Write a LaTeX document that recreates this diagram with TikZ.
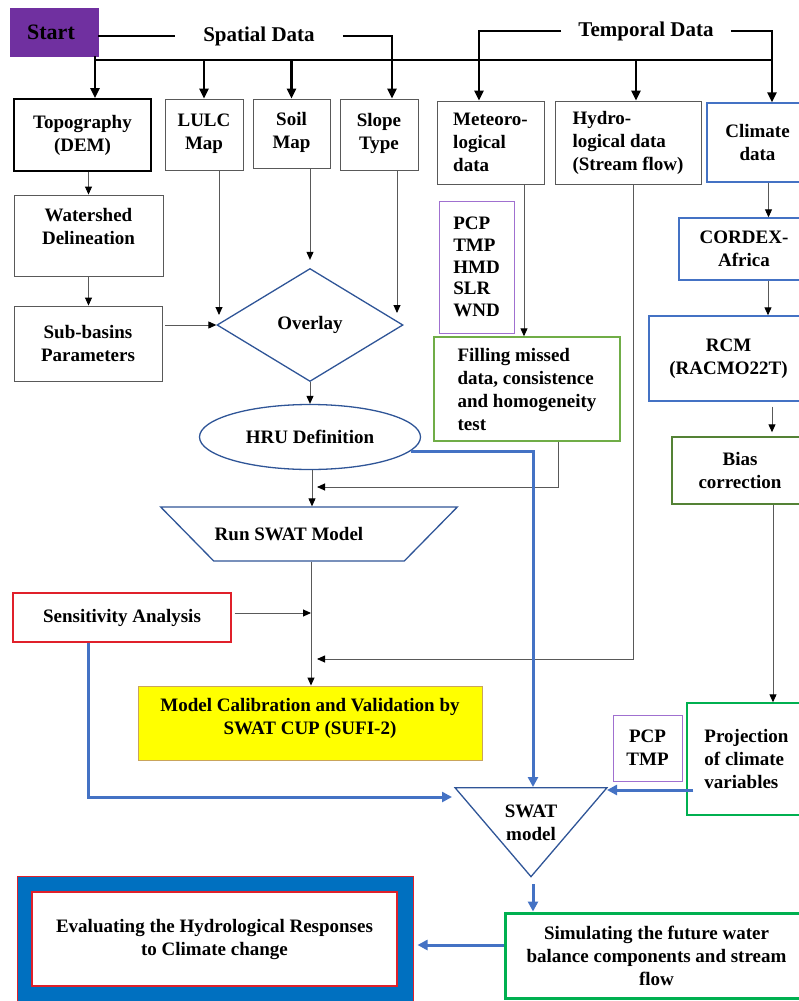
\documentclass[tikz,border=0pt]{standalone}
\usepackage{fontspec}
\setmainfont{Liberation Serif}
\usetikzlibrary{shapes.geometric, arrows.meta, positioning}
\usepackage{xcolor}
\definecolor{StartPurple}{HTML}{7030A0}
\definecolor{ListPurple}{HTML}{A070D0}
\definecolor{LineGray}{HTML}{595959}
\definecolor{ShapeBlue}{HTML}{2F5597}
\definecolor{BoxBlue}{HTML}{4472C4}
\definecolor{FrameBlue}{HTML}{0070C0}
\definecolor{LeafGreen}{HTML}{70AD47}
\definecolor{DarkGreen}{HTML}{548235}
\definecolor{BrightGreen}{HTML}{00B050}
\definecolor{AlertRed}{HTML}{E0202A}
\definecolor{CalYellow}{HTML}{FFFF00}
\definecolor{CalEdge}{HTML}{C9A45C}
\newcommand{\boxfont}{\fontsize{19}{23}\selectfont\bfseries}
\newcommand{\padbot}[1]{\rule[-#1]{0pt}{#1}}

\begin{document}
\begin{tikzpicture}[
          x=1pt, y=-1pt,
          wh/.style 2 args={minimum width=#1pt, minimum height=#2pt},
          box/.style={rectangle, draw=LineGray, line width=0.9pt, font=\boxfont, align=center, inner sep=2pt},
          listbox/.style={box, align=left},
          bluebox/.style={box, draw=BoxBlue, line width=1.4pt},
          blueshape/.style={draw=ShapeBlue, line width=1.3pt, font=\boxfont, align=center, inner sep=1pt},
          header/.style={font=\fontsize{21}{25}\selectfont\bfseries, inner ysep=0pt},
          bar/.style={line width=2.8pt, black},
          bararrow/.style={bar, -{Triangle[length=10pt,width=9pt]}},
          arrow/.style={-{Triangle[length=8pt,width=7pt,color=black]}, line width=0.9pt, LineGray},
          bluearrow/.style={-{Triangle[length=10pt,width=10pt]}, line width=3pt, BoxBlue}
        ]
          \useasboundingbox (0,0) rectangle (798,1001);

          % top row
          \node (start) [rectangle, fill=StartPurple, draw=StartPurple, wh={88}{48}, font=\fontsize{22}{26}\selectfont\bfseries] at (54,32) {Start\hspace*{6pt}};
          \node (spatial) [header, inner xsep=28pt] at (259,36) {Spatial Data};
          \node (temporal) [header, inner xsep=17pt] at (646,31) {Temporal Data};
          \coordinate (bar_l) at (95,60);
          \coordinate (bar_r) at (772,60);

          \node (topo) [box, draw=black, line width=1.8pt, wh={137}{72}] at (82.5,135) {Topography\\(DEM)};
          \node (lulc) [box, wh={78}{71}] at (204,134.5) {LULC\\Map\padbot{6pt}};
          \node (soil_map) [box, wh={77}{69}] at (291.5,133.5) {Soil\\Map\padbot{6pt}};
          \node (slope) [box, wh={78}{71}] at (379,134.5) {Slope\\Type\padbot{6pt}};
          \node (meteo) [listbox, wh={107}{83}] at (490.5,142.5) {Meteoro-\\logical\\data};
          \node (hydro) [listbox, wh={146}{83}] at (628,142.5) {Hydro-\\logical data\\(Stream flow)};
          \node (climate) [bluebox, wh={101}{79}] at (757.5,142.5) {Climate\\data};

          % spatial branch
          \node (watershed) [box, wh={149}{81}] at (88.5,235.5) {Watershed\\Delineation\padbot{18pt}};
          \node (sub_basins) [box, wh={148}{75}] at (88,343.5) {Sub-basins\\Parameters};
          \node (overlay) [blueshape, diamond, wh={186}{113}] at (310,325) {Overlay};
          \node (hru) [blueshape, ellipse, wh={221}{65}] at (310,437) {HRU Definition};
          \node (run_swat) [blueshape, trapezium, trapezium angle=43, trapezium stretches body=true, shape border rotate=180, inner ysep=18pt, wh={288}{54}] at (309,534) {Run SWAT Model\hspace*{40pt}};
          \node (sens) [box, draw=AlertRed, line width=1.4pt, wh={218}{49}] at (122,617.5) {Sensitivity Analysis};
          \node (calib) [box, fill=CalYellow, draw=CalEdge, wh={344}{74}] at (310,723) {Model Calibration and Validation by\\SWAT CUP (SUFI-2)\padbot{14pt}};

          % temporal branch
          \node (pcp_list) [listbox, draw=ListPurple, line width=0.8pt, wh={75}{132}, font=\fontsize{19}{21.7}\selectfont\bfseries] at (476.5,267) {PCP\\TMP\\HMD\\SLR\\WND};
          \node (filling) [listbox, draw=LeafGreen, line width=1.4pt, wh={186}{104}] at (527,389) {Filling missed\\data, consistence\\and homogeneity\\test};
          \node (cordex) [bluebox, wh={130}{62}] at (744,249) {CORDEX-\\Africa};
          \node (rcm) [bluebox, wh={159}{85}] at (728.5,358.5) {RCM\\(RACMO22T)};
          \node (bias) [box, draw=DarkGreen, line width=1.4pt, wh={136}{67}] at (740,470.5) {Bias\\correction};
          \node (projection) [listbox, draw=BrightGreen, line width=1.4pt, wh={119}{112}] at (746.5,759) {Projection\\of climate\\variables};
          \node (pcp_tmp) [box, draw=ListPurple, line width=0.8pt, wh={69}{66}] at (647.5,748) {PCP\\TMP};

          % bottom
          \node (swat) [draw=ShapeBlue, line width=1.3pt, inner sep=0pt, isosceles triangle, isosceles triangle stretches, shape border rotate=270, wh={152}{89}, anchor=lower side,
                        label={[anchor=north, yshift=-18pt, inner sep=0pt, font=\boxfont, align=center]lower side:SWAT\\model}] at (531,787) {};
          \node (simulate) [box, draw=BrightGreen, line width=3pt, wh={303}{85}] at (656.5,955.5) {Simulating the future water\\balance components and stream\\flow};
          \node (eval_frame) [rectangle, fill=FrameBlue, draw=AlertRed, line width=1pt, wh={396}{129}] at (215,940.5) {};
          \node (eval) [box, fill=white, draw=AlertRed, line width=2pt, wh={365}{94}] at (214.5,939) {Evaluating the Hydrological Responses\\to Climate change};

          \coordinate (hru_run) at (312,487);
          \coordinate (sens_run) at (311,613);
          \coordinate (hydro_run) at (311,659);
          \coordinate (swat_l) at (452,797);
          \coordinate (swat_r) at (607,790);

          % data bars
          \draw [bar] (bar_l) -- (bar_r);
          \draw [bar] (start.east |- spatial.west) -- (spatial.west);
          \draw [bararrow] (start.south -| bar_l) -- (bar_l |- topo.north);
          \draw [bararrow] (bar_l -| lulc.north) -- (lulc.north);
          \draw [bararrow] (bar_l -| soil_map.north) -- (soil_map.north);
          \draw [bararrow] (spatial.east) -| ([xshift=13pt]slope.north);
          \draw [bararrow] (temporal.west) -| ([xshift=-11.5pt]meteo.north);
          \draw [bararrow] ([xshift=8pt]hydro.north |- bar_l) -- ([xshift=8pt]hydro.north);
          \draw [bararrow] (temporal.east) -| ([xshift=14.5pt]climate.north);

          % spatial flow
          \draw [arrow] (topo.south -| watershed.north) -- (watershed.north);
          \draw [arrow] (watershed.south) -- (watershed.south |- sub_basins.north);
          \draw [arrow, shorten <=3pt] (sub_basins.east |- overlay.west) -- (overlay.west);
          \draw [arrow, shorten >=10pt] ([xshift=15pt]lulc.south) -- ([xshift=15pt]lulc.south |- overlay.west);
          \draw [arrow, shorten >=8pt] (overlay.north |- soil_map.south) -- (overlay.north);
          \draw [arrow, shorten >=12pt] ([xshift=18pt]slope.south) -- ([xshift=18pt]slope.south |- overlay.east);
          \draw [arrow] (overlay.south) -- (hru.north);
          \draw [arrow] (hru.south -| hru_run) -- (hru_run |- run_swat.north);
          \draw [arrow] (run_swat.south -| sens_run) -- (sens_run |- calib.north);
          \draw [arrow, shorten <=3pt] (sens.east |- sens_run) -- (sens_run);

          % temporal flow
          \draw [arrow] ([xshift=33.5pt]meteo.south) -- ([xshift=33.5pt]meteo.south |- filling.north);
          \draw [arrow, shorten >=-1pt] ([xshift=31pt]filling.south) |- ([xshift=6pt]hru_run);
          \draw [arrow] ([xshift=5pt]hydro.south) |- ([xshift=6pt]hydro_run);
          \draw [arrow] ([xshift=11pt]climate.south) -- ([xshift=11pt]climate.south |- cordex.north);
          \draw [arrow] ([xshift=24pt]cordex.south) -- ([xshift=24pt]cordex.south |- rcm.north);
          \draw [arrow, shorten <=5pt, shorten >=4pt] ([xshift=43.5pt]rcm.south) -- ([xshift=43.5pt]rcm.south |- bias.north);
          \draw [arrow] ([xshift=33pt]bias.south) -- ([xshift=33pt]bias.south |- projection.north);

          % model links
          \draw [bluearrow] (hru.-8) -| ([xshift=2pt]swat.lower side);
          \draw [bluearrow] ([xshift=-34pt]sens.south) |- (swat_l);
          \draw [bluearrow] ([xshift=7pt]projection.west |- swat_r) -- (swat_r);
          \draw [bluearrow, shorten <=6pt] ([xshift=2pt]swat.apex) -- ([xshift=2pt]swat.apex |- simulate.north);
          \draw [bluearrow, shorten >=4pt] ([yshift=10.5pt]simulate.west) -- ([yshift=10.5pt]simulate.west -| eval_frame.east);
        \end{tikzpicture}
\end{document}
